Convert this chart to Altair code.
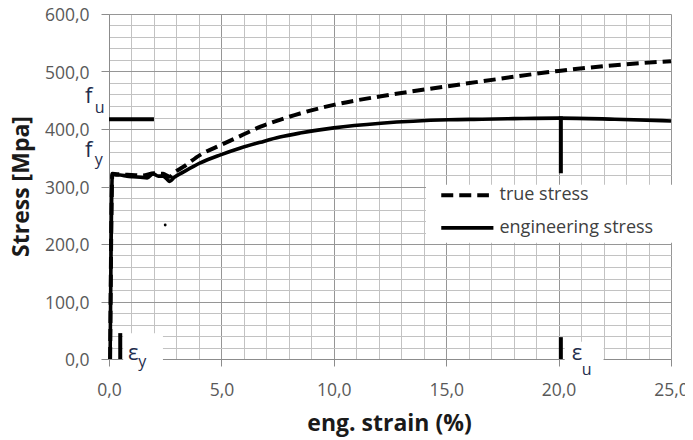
import altair as alt
import pandas as pd

# ---- data ----
eng_strain = [0.05, 0.15, 0.3, 0.5, 0.8, 1.07, 1.4, 1.7, 1.96, 2.2, 2.4, 2.55, 2.7, 2.9, 3.3,
              4.06, 4.96, 5.85, 6.74, 7.6, 8.5, 10.0, 12.1, 15.1, 16.6, 18.0, 20.0, 22.5, 25.0]
eng_stress = [0, 322, 320, 320, 318, 317, 316, 315, 322, 318, 318, 314, 309, 316, 325,
              341, 355, 367, 377, 386, 393, 402, 410, 416, 417, 418, 419, 417, 414]

true_strain = [0.05, 0.15, 0.5, 1.0, 1.5, 2.0, 2.4, 2.7, 2.9, 3.3, 4.06, 4.96, 5.85, 6.74,
               7.6, 8.5, 10.0, 12.1, 15.0, 16.6, 20.0, 22.5, 25.0]
true_stress = [0, 322, 321, 320, 319, 323, 322, 317, 324, 334, 355, 372, 388, 404,
               416, 427, 442, 457, 474, 483, 501, 511, 518]

# marker segments (strain x, x2 ; stress y, y2)
seg_x = [0.0, 0.5, 20.1, 20.1]
seg_x2 = [2.0, 0.5, 20.1, 20.1]
seg_y = [417, 0, 0, 323]
seg_y2 = [417, 45, 38, 422]

stray_x = [2.5]
stray_y = [233]

# label backgrounds (white boxes): eps_y, eps_u, legend
box_x = [0.63, 20.27, 14.1]
box_x2 = [2.4, 22.0, 25.1]
box_y = [-23, -23, 202]
box_y2 = [45, 30, 303]

# annotation texts
main_txt = ["f", "f", "ε", "ε"]
main_x = [-1.07, -1.07, 0.85, 20.58]
main_y = [445, 351, -1, -1]
sub_txt = ["u", "y", "y", "u"]
sub_x = [-0.63, -0.63, 1.3, 21.03]
sub_y = [428, 337, -14, -28]

# legend
leg_labels = ["true stress", "engineering stress"]
leg_x = [14.78, 14.78]
leg_x2 = [16.9, 17.1]
leg_y = [285, 228]
leg_tx = [17.37, 17.37]

x_minor = [v for v in range(0, 26) if v % 5 != 0]
y_minor = [v for v in range(0, 601, 20) if v % 100 != 0]

FONT = "Open Sans"
XS = alt.Scale(domain=[0, 25], nice=False, zero=False)
YS = alt.Scale(domain=[0, 600], nice=False, zero=False)
fmt = "replace(format(datum.value, '.1f'), '.', ',')"

x_major_axis = alt.Axis(values=[0, 5, 10, 15, 20, 25], labelExpr=fmt, orient="bottom",
                        grid=True, gridColor="#969696", gridWidth=1, labelFlush=False,
                        domainColor="#8c8c8c", domainWidth=1,
                        tickColor="#8c8c8c", tickSize=7, labelPadding=15,
                        labelFont=FONT, labelFontSize=17.5, labelColor="#595959",
                        title="eng. strain (%)", titleFont=FONT, titleFontSize=23,
                        titleFontWeight="bold", titleColor="#1a1a1a",
                        titleX=280, titleY=64, titleBaseline="middle", titleAlign="center")
y_major_axis = alt.Axis(values=[0, 100, 200, 300, 400, 500, 600], labelExpr=fmt, orient="left",
                        grid=True, gridColor="#969696", gridWidth=1, labelFlush=False,
                        domainColor="#8c8c8c", domainWidth=1,
                        tickColor="#8c8c8c", tickSize=8, labelPadding=12, labelOffset=1.5,
                        labelFont=FONT, labelFontSize=17.5, labelColor="#595959",
                        title="Stress [Mpa]", titleFont=FONT, titleFontSize=23,
                        titleFontWeight="bold", titleColor="#1a1a1a",
                        titleX=-88, titleY=172, titleAngle=270,
                        titleBaseline="middle", titleAlign="center")
x_minor_axis = alt.Axis(values=x_minor, orient="top", grid=True, gridColor="#c2c2c2",
                        labels=False, ticks=False, domain=False, title=None)
y_minor_axis = alt.Axis(values=y_minor, orient="right", grid=True, gridColor="#c2c2c2",
                        labels=False, ticks=False, domain=False, title=None)

eng_df = pd.DataFrame({"strain": eng_strain, "stress": eng_stress})
true_df = pd.DataFrame({"strain": true_strain, "stress": true_stress})

eng = alt.Chart(eng_df).mark_line(color="black", strokeWidth=3.6, strokeJoin="round",
                                  interpolate="monotone").encode(
    x=alt.X("strain:Q", scale=XS, axis=x_major_axis),
    y=alt.Y("stress:Q", scale=YS, axis=y_major_axis),
    order="strain:Q",
)
true = alt.Chart(true_df).mark_line(color="black", strokeWidth=4, strokeDash=[12, 6],
                                    interpolate="monotone").encode(
    x=alt.X("strain:Q", scale=XS, axis=x_minor_axis),
    y=alt.Y("stress:Q", scale=YS, axis=y_minor_axis),
    order="strain:Q",
)

boxes = alt.Chart(pd.DataFrame({"x": box_x, "x2": box_x2, "y": box_y, "y2": box_y2})).mark_rect(
    color="white", clip=False).encode(
    x=alt.X("x:Q", scale=XS, axis=None), x2="x2:Q",
    y=alt.Y("y:Q", scale=YS, axis=None), y2="y2:Q",
)

segs = alt.Chart(pd.DataFrame({"x": seg_x, "x2": seg_x2, "y": seg_y, "y2": seg_y2})).mark_rule(
    color="black", strokeWidth=4).encode(
    x=alt.X("x:Q", scale=XS, axis=None), x2="x2:Q",
    y=alt.Y("y:Q", scale=YS, axis=None), y2="y2:Q",
)

stray = alt.Chart(pd.DataFrame({"x": stray_x, "y": stray_y})).mark_circle(
    color="black", size=8, opacity=1).encode(
    x=alt.X("x:Q", scale=XS, axis=None),
    y=alt.Y("y:Q", scale=YS, axis=None),
)

main_t = alt.Chart(pd.DataFrame({"t": main_txt, "x": main_x, "y": main_y})).mark_text(
    font=FONT, fontSize=22, align="left", baseline="alphabetic", color="#1f2d4d").encode(
    x=alt.X("x:Q", scale=XS, axis=None),
    y=alt.Y("y:Q", scale=YS, axis=None), text="t:N",
)
sub_t = alt.Chart(pd.DataFrame({"t": sub_txt, "x": sub_x, "y": sub_y})).mark_text(
    font=FONT, fontSize=16, align="left", baseline="alphabetic", color="#1f2d4d").encode(
    x=alt.X("x:Q", scale=XS, axis=None),
    y=alt.Y("y:Q", scale=YS, axis=None), text="t:N",
)

leg_df = pd.DataFrame({"label": leg_labels, "x": leg_x, "x2": leg_x2, "y": leg_y, "tx": leg_tx})
leg_true = alt.Chart(leg_df.iloc[[0]]).mark_rule(color="black", strokeWidth=4, strokeDash=[12, 6]).encode(
    x=alt.X("x:Q", scale=XS, axis=None), x2="x2:Q",
    y=alt.Y("y:Q", scale=YS, axis=None),
)
leg_eng = alt.Chart(leg_df.iloc[[1]]).mark_rule(color="black", strokeWidth=3.6).encode(
    x=alt.X("x:Q", scale=XS, axis=None), x2="x2:Q",
    y=alt.Y("y:Q", scale=YS, axis=None),
)
leg_txt = alt.Chart(leg_df).mark_text(font=FONT, fontSize=18, align="left", baseline="middle",
                                      color="#404040").encode(
    x=alt.X("tx:Q", scale=XS, axis=None),
    y=alt.Y("y:Q", scale=YS, axis=None), text="label:N",
)

chart = alt.layer(eng, true, boxes, segs, stray, main_t, sub_t, leg_true, leg_eng, leg_txt).resolve_axis(
    x="independent", y="independent"
).properties(
    width=562, height=345,
    autosize=alt.AutoSizeParams(type="none"),
    padding={"left": 101, "top": 6, "right": 14, "bottom": 80},
).configure_view(stroke=None)

chart.save("out.html", embed_options={"renderer": "svg", "actions": False})
